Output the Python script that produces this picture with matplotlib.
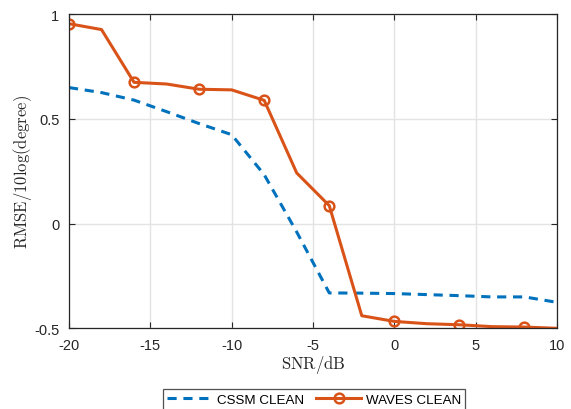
import numpy as np
import matplotlib.pyplot as plt

plt.rcParams['font.family'] = ['Liberation Sans', 'DejaVu Sans']
plt.rcParams['mathtext.fontset'] = 'cm'
plt.rcParams['axes.unicode_minus'] = False

snr = [-20, -18, -16, -14, -12, -10, -8, -6, -4, -2, 0, 2, 4, 6, 8, 10]
cssm = [0.65, 0.626, 0.59, 0.535, 0.478, 0.425, 0.234, -0.04, -0.331, -0.332,
        -0.334, -0.339, -0.344, -0.35, -0.35, -0.376]
waves = [0.955, 0.927, 0.675, 0.667, 0.642, 0.639, 0.589, 0.242, 0.086, -0.44,
         -0.467, -0.478, -0.483, -0.492, -0.494, -0.5]

fig = plt.figure(figsize=(5.71, 4.10), dpi=100)
ax = fig.add_axes([0.1208, 0.1968, 0.8547, 0.7659])

ax.plot(snr, cssm, '--', color='#0072BD', lw=2.2, dashes=(3, 2.2), label='CSSM CLEAN')
ax.plot(snr, waves, '-', color='#D95319', lw=2.2, marker='o', markersize=7,
        markerfacecolor='none', markeredgewidth=1.8, markevery=2, label='WAVES CLEAN')

ax.set_xlim(-20, 10)
ax.set_ylim(-0.5, 1)
ax.set_xticks([-20, -15, -10, -5, 0, 5, 10])
ax.set_yticks([-0.5, 0, 0.5, 1])
ax.set_yticklabels(['-0.5', '0', '0.5', '1'])
ax.grid(True, color='#e3e3e3', lw=1)
ax.set_axisbelow(True)
ax.tick_params(direction='in', top=True, right=True, labelsize=10.5, length=4,
               color='#262626', labelcolor='#262626')
ax.tick_params(axis='x', pad=7)
ax.tick_params(axis='y', pad=7)
for s in ax.spines.values():
    s.set_color('#262626')
    s.set_linewidth(0.9)

ax.set_xlabel(r'$\mathrm{SNR/dB}$', fontsize=12, color='#262626', labelpad=1)
ax.set_ylabel(r'$\mathrm{RMSE/10log(degree)}$', fontsize=12, color='#262626', labelpad=0)

leg = ax.legend(loc='upper center', bbox_to_anchor=(0.55, 0.048), bbox_transform=fig.transFigure,
                ncol=2, frameon=True, fancybox=False, fontsize=9.6, handlelength=3.4,
                columnspacing=0.9, handletextpad=0.35, borderpad=0.3, borderaxespad=0)
leg.get_frame().set_edgecolor('#262626')
leg.get_frame().set_linewidth(0.9)

fig.savefig('out.png', dpi=100)
